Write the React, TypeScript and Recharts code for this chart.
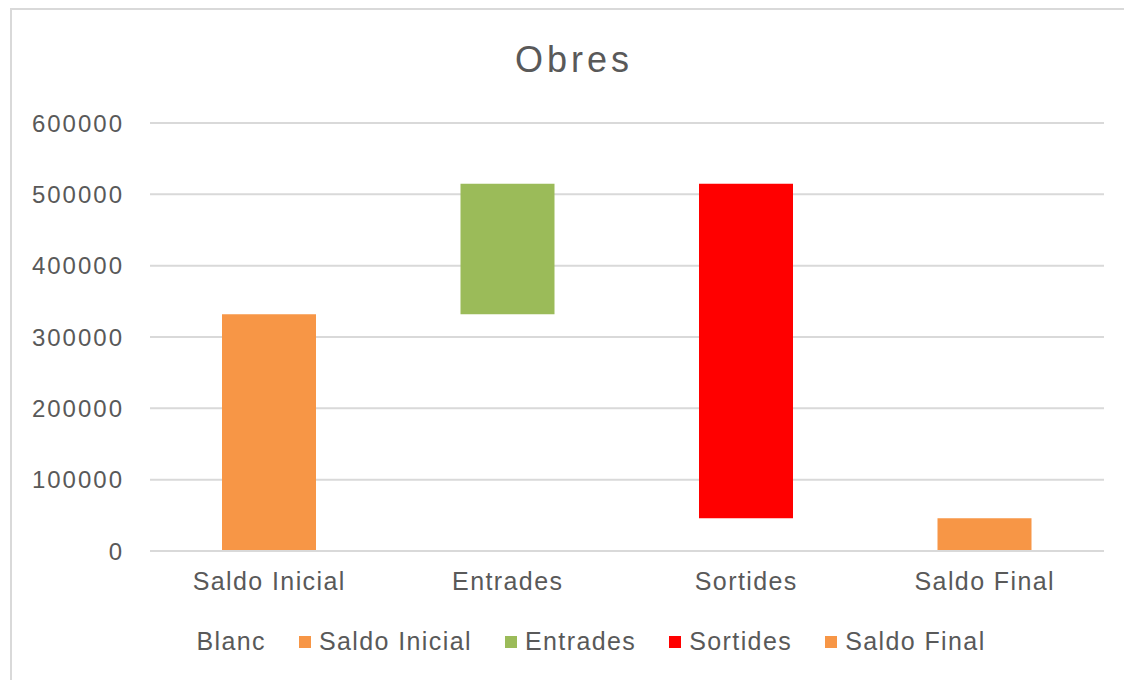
import { BarChart, Bar, XAxis, YAxis, CartesianGrid, Legend } from "recharts";

const categories = ["Saldo Inicial", "Entrades", "Sortides", "Saldo Final"];
const seriesNames = ["Blanc", "Saldo Inicial", "Entrades", "Sortides", "Saldo Final"];
const blanc = [0, 332000, 46000, 0];
const saldoInicial = [332000, 0, 0, 0];
const entrades = [0, 183000, 0, 0];
const sortides = [0, 0, 469000, 0];
const saldoFinal = [0, 0, 0, 46000];
const yTicks = [0, 100000, 200000, 300000, 400000, 500000, 600000];

const TEXT = "#595959";
const FONT = "'Liberation Sans', Arial, sans-serif";

const data = categories.map((name, i) => ({
  name,
  blanc: blanc[i],
  saldoInicial: saldoInicial[i],
  entrades: entrades[i],
  sortides: sortides[i],
  saldoFinal: saldoFinal[i],
}));

function LegendRow({ payload }: { payload?: any[] }) {
  const items = [...(payload ?? [])].sort(
    (a, b) => seriesNames.indexOf(a.value) - seriesNames.indexOf(b.value)
  );
  return (
    <div style={{ display: "flex", justifyContent: "center", gap: 33, fontFamily: FONT, fontSize: 25, letterSpacing: 1.4, color: TEXT, paddingLeft: 38 }}>
      {items.map((p) => (
        <div key={p.value} style={{ display: "flex", alignItems: "center" }}>
          <span style={{ width: 12, height: 12, marginRight: 8, background: p.color, display: "inline-block" }} />
          <span>{p.value}</span>
        </div>
      ))}
    </div>
  );
}

export default function App() {
  return (
    <div style={{ position: "relative", width: 1124, height: 680, overflow: "hidden", background: "#fff" }}>
      <style>{`body{margin:0}`}</style>
      <div style={{ position: "absolute", left: 10, top: 8, width: 1200, height: 800, border: "2px solid #d9d9d9", boxSizing: "border-box" }} />
      <div style={{ position: "absolute", left: 0, width: 1148, top: 39, textAlign: "center", fontFamily: FONT, fontSize: 36, letterSpacing: 4, color: TEXT }}>
        Obres
      </div>
      <div style={{ position: "absolute", left: 0, top: 0 }}>
        <BarChart width={1124} height={680} data={data} margin={{ top: 123, right: 20, bottom: 0, left: 0 }} barSize={94}>
          <CartesianGrid vertical={false} stroke="#d9d9d9" strokeWidth={2} />
          <XAxis
            dataKey="name"
            height={100}
            axisLine={{ stroke: "#d9d9d9", strokeWidth: 2 }}
            tickLine={false}
            tickSize={0}
            tickMargin={21}
            tick={{ fill: TEXT, fontSize: 25, fontFamily: FONT, letterSpacing: 1.4 }}
          />
          <YAxis
            width={150}
            domain={[0, 600000]}
            ticks={yTicks}
            axisLine={false}
            tickLine={false}
            tickSize={0}
            tickMargin={26}
            tick={{ fill: TEXT, fontSize: 24, fontFamily: FONT, letterSpacing: 2 }}
          />
          <Legend
            content={<LegendRow />}
            wrapperStyle={{ top: 627, left: 0, width: 1124 }}
          />
          <Bar dataKey="blanc" name="Blanc" stackId="a" fill="transparent" isAnimationActive={false} />
          <Bar dataKey="saldoInicial" name="Saldo Inicial" stackId="a" fill="#f79646" isAnimationActive={false} />
          <Bar dataKey="entrades" name="Entrades" stackId="a" fill="#9bbb59" isAnimationActive={false} />
          <Bar dataKey="sortides" name="Sortides" stackId="a" fill="#ff0000" isAnimationActive={false} />
          <Bar dataKey="saldoFinal" name="Saldo Final" stackId="a" fill="#f79646" isAnimationActive={false} />
        </BarChart>
      </div>
    </div>
  );
}
